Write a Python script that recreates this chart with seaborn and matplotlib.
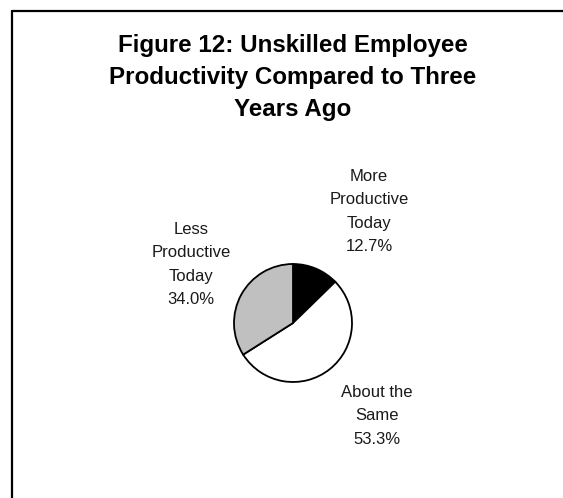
import matplotlib
matplotlib.use("Agg")
import matplotlib.pyplot as plt
from matplotlib.lines import Line2D
import seaborn as sns

# Survey responses
categories = ["More\nProductive\nToday", "About the\nSame", "Less\nProductive\nToday"]
shares = [12.7, 53.3, 34.0]
slice_colors = ["#000000", "#FFFFFF", "#C0C0C0"]
title = "Figure 12: Unskilled Employee\nProductivity Compared to Three\nYears Ago"

sns.set_theme(style="white")
plt.rcParams["font.family"] = ["Liberation Sans", "DejaVu Sans"]

W, H = 563, 498
fig = plt.figure(figsize=(W / 100, H / 100), dpi=100)
fig.patch.set_facecolor("white")

# Axes spanning the whole canvas, in pixel units (y measured upward)
ax = fig.add_axes([0, 0, 1, 1])
ax.pie(shares, colors=slice_colors, startangle=90, counterclock=False,
       radius=59, center=(293, H - 323),
       wedgeprops=dict(edgecolor="black", linewidth=1.3))
ax.set_xlim(0, W)
ax.set_ylim(0, H)
ax.set_aspect("equal")
ax.axis("off")

# Frame along the top and left
fig.add_artist(Line2D([12 / W, 1], [1 - 11 / H, 1 - 11 / H], color="black",
                      linewidth=1.6, transform=fig.transFigure))
fig.add_artist(Line2D([12 / W, 12 / W], [0, 1 - 11 / H], color="black",
                      linewidth=1.6, transform=fig.transFigure))

ax.text(293, H - 77.5, title, ha="center", va="center", fontsize=17.4,
        fontweight="bold", linespacing=1.5, color="black")

label_pos = [(369, 211.5), (377, 416), (191, 264.5)]
for name, val, (x, y) in zip(categories, shares, label_pos):
    ax.text(x, H - y, f"{name}\n{val:.1f}%", ha="center", va="center",
            fontsize=12, linespacing=1.69, color="#1a1a1a")

fig.savefig("out.png", dpi=100, facecolor="white")
